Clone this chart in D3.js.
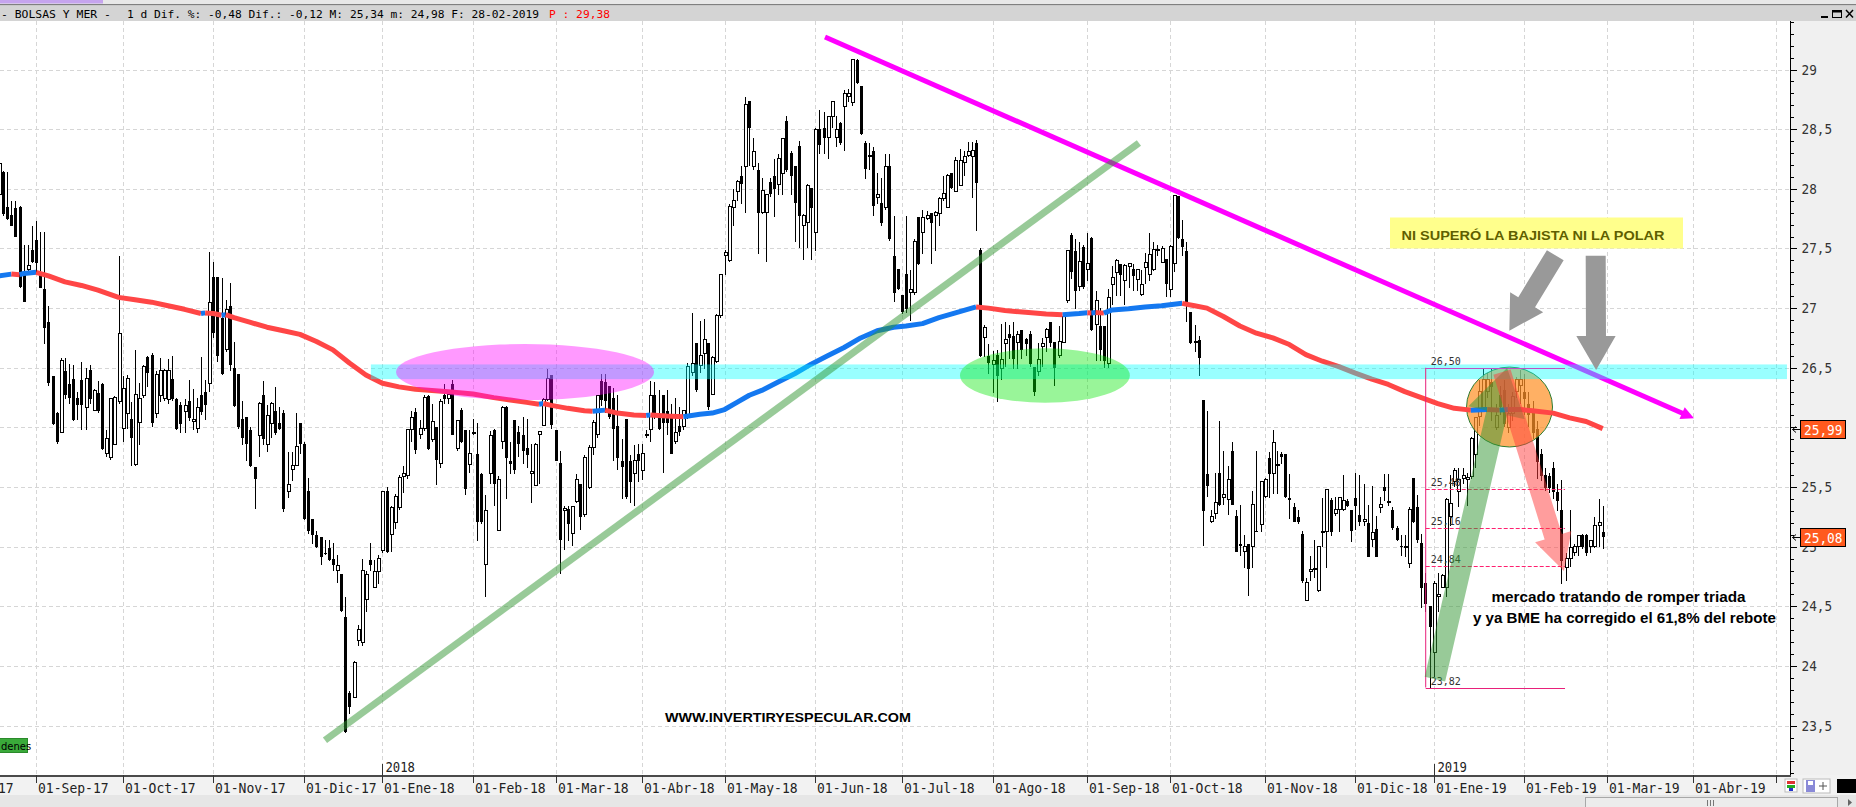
<!DOCTYPE html>
<html><head><meta charset="utf-8">
<script src="https://cdn.jsdelivr.net/npm/d3@7"></script>
<style>html,body{margin:0;padding:0;background:#fff;overflow:hidden}svg{display:block}</style>
</head><body>
<svg id="c" width="1856" height="807"></svg>
<script>
// ---------------- DATA ----------------
const opens=[27.95,28.14,27.85,27.78,27.84,27.85,27.30,27.32,27.49,27.57,
27.30,27.16,26.88,26.43,26.12,25.96,26.47,26.36,26.41,26.25,
26.40,26.17,26.48,26.14,26.29,26.36,25.78,25.75,25.86,26.22,
25.99,26.12,26.07,25.69,26.04,26.27,26.59,26.61,26.12,26.27,
26.24,26.23,26.41,26.24,26.19,26.13,26.22,26.05,25.99,26.27,
26.30,26.37,27.26,27.26,26.92,26.65,27.02,26.50,26.45,26.07,
26.09,25.98,25.67,25.93,26.27,25.86,26.03,26.14,26.04,26.12,
25.46,25.65,25.68,26.04,25.86,25.47,25.23,25.10,25.08,24.95,
24.99,24.90,24.80,24.77,24.41,23.77,23.74,24.21,24.20,24.56,
24.89,24.66,24.79,24.97,25.47,25.10,25.20,25.33,25.59,25.60,
25.98,26.13,25.94,25.99,26.26,25.90,26.00,25.70,26.27,26.24,
26.36,25.82,26.15,25.98,25.69,25.95,25.78,25.61,24.85,25.61,
25.98,25.14,25.88,26.17,25.72,26.06,25.96,25.94,25.83,25.61,
25.51,25.94,26.02,26.23,26.44,25.98,25.70,25.30,25.32,25.11,
25.38,25.53,25.27,25.50,25.83,25.94,26.39,26.38,26.35,26.25,
26.01,25.72,26.07,25.72,25.61,25.78,25.64,25.93,25.98,26.27,
26.09,26.27,26.14,26.09,25.88,26.01,26.01,26.09,26.46,26.71,
26.52,26.62,26.71,26.28,26.55,26.94,27.44,27.40,27.84,27.98,
28.11,28.19,28.74,28.19,28.16,27.80,27.80,28.06,28.11,28.04,
28.13,28.57,28.30,28.19,28.36,27.69,27.72,28.01,27.63,28.50,
28.51,28.43,28.61,28.43,28.55,28.69,28.77,28.72,29.08,28.86,
28.38,28.28,28.32,27.93,27.88,27.84,28.19,27.44,27.33,27.11,
27.29,27.13,27.13,27.76,27.63,27.75,27.80,27.78,27.79,27.92,
27.84,28.13,27.98,28.03,28.22,28.28,28.27,28.38,27.49,26.75,
26.60,26.53,26.61,26.49,26.70,26.78,26.77,26.71,26.82,26.74,
26.78,26.51,26.47,26.68,26.75,26.88,26.72,26.60,26.71,27.06,
27.61,27.48,27.18,27.51,27.32,27.59,26.86,26.85,26.85,26.54,
27.20,27.30,27.37,27.23,27.35,27.33,27.24,27.11,27.34,27.28,
27.32,27.48,27.38,27.41,27.16,27.37,27.94,27.58,27.48,26.97,
26.71,26.73,26.23,25.61,25.21,25.28,25.62,25.41,25.40,25.80,
25.26,25.02,24.96,25.02,25.00,25.13,25.19,25.42,25.74,25.61,
25.68,25.78,25.78,25.41,25.33,25.25,25.11,24.55,24.79,24.81,
24.63,25.12,25.13,25.39,25.28,25.31,25.31,25.38,25.31,25.41,
25.27,25.21,25.20,25.06,25.15,25.33,25.50,25.37,25.31,25.16,
25.01,24.99,24.86,25.58,25.33,25.03,24.70,24.50,24.11,24.58,
24.66,24.66,25.25,25.55,25.46,25.57,25.56,25.59,25.77,26.09,
26.17,26.30,26.38,26.00,26.27,26.31,26.00,26.12,26.30,26.35,
26.30,26.20,26.15,25.99,25.78,25.60,25.59,25.66,25.46,25.31,
24.83,24.90,24.95,25.00,25.10,25.10,25.00,25.00,25.18,25.12];
const highs=[28.23,28.15,28.14,27.90,27.90,27.86,27.53,27.53,27.69,27.73,
27.64,27.64,27.02,26.43,26.13,26.58,26.58,26.53,26.52,26.30,
26.55,26.50,26.52,26.32,26.39,26.37,25.98,26.25,26.26,27.44,
26.43,26.44,26.21,26.65,26.37,26.52,26.60,26.62,26.47,26.58,
26.49,26.57,26.60,26.25,26.21,26.24,26.40,26.32,26.25,26.59,
26.40,27.47,27.39,27.26,27.25,27.07,27.21,26.72,26.45,26.22,
26.09,26.00,25.67,26.21,26.39,26.19,26.21,26.34,26.17,26.15,
25.79,25.79,26.12,26.04,25.88,25.58,25.23,25.13,25.08,25.06,
25.06,25.03,24.93,24.77,24.58,23.79,24.04,24.34,24.90,24.80,
25.03,24.89,24.93,25.47,25.50,25.34,25.44,25.60,25.68,25.98,
26.14,26.16,26.06,26.27,26.27,26.20,26.00,26.24,26.36,26.30,
26.40,26.06,26.16,25.98,25.98,26.07,26.04,25.62,25.43,25.97,
25.99,25.59,26.18,26.18,25.88,26.06,26.01,26.09,26.07,25.86,
25.87,25.97,26.25,26.49,26.44,25.98,25.80,25.34,25.34,25.34,
25.61,25.53,25.77,25.85,26.06,26.27,26.45,26.45,26.35,26.33,
26.27,25.90,26.07,25.77,25.85,25.86,25.86,25.98,26.39,26.38,
26.31,26.27,26.31,26.20,26.25,26.17,26.15,26.54,26.96,26.71,
26.89,26.91,26.71,26.60,26.95,27.28,27.49,27.87,28.00,28.07,
28.19,28.77,28.74,28.43,28.22,28.09,27.95,28.09,28.25,28.29,
28.43,28.61,28.32,28.19,28.40,27.79,28.04,28.01,28.51,28.66,
28.64,28.61,28.74,28.61,28.56,28.83,28.84,29.09,29.09,28.86,
28.40,28.38,28.35,28.13,28.09,28.29,28.29,27.77,27.33,27.11,
27.77,27.32,27.58,27.76,27.82,27.81,27.80,27.81,27.93,28.11,
28.12,28.13,28.27,28.33,28.32,28.39,28.39,28.41,27.50,26.86,
26.70,26.64,26.65,26.87,26.88,26.86,26.88,26.81,26.82,26.75,
26.81,26.51,26.71,26.75,26.83,26.88,26.72,26.85,26.95,27.49,
27.63,27.58,27.55,27.53,27.63,27.60,27.14,27.00,26.85,27.16,
27.35,27.41,27.37,27.37,27.37,27.37,27.33,27.32,27.46,27.63,
27.55,27.53,27.52,27.41,27.53,27.94,27.94,27.74,27.55,26.97,
26.86,26.77,26.23,26.14,25.31,25.62,26.05,25.80,25.68,25.88,
25.31,25.35,25.10,25.02,25.47,25.80,25.55,25.58,25.79,25.98,
25.80,25.79,25.78,25.61,25.37,25.31,25.13,24.74,24.92,25.06,
25.01,25.41,25.48,25.41,25.42,25.42,25.60,25.40,25.31,25.62,
25.60,25.53,25.35,25.51,25.26,25.42,25.61,25.61,25.33,25.17,
25.10,25.10,25.33,25.58,25.43,25.11,24.78,24.50,24.71,24.78,
24.77,25.41,25.60,25.66,25.66,25.66,25.62,25.92,26.09,26.40,
26.50,26.46,26.50,26.20,26.35,26.40,26.20,26.30,26.42,26.48,
26.45,26.30,26.22,26.05,25.82,25.66,25.62,25.71,25.53,25.56,
24.95,25.31,25.02,25.10,25.11,25.11,25.06,25.25,25.40,25.34];
const lows=[27.90,27.77,27.74,27.69,27.60,27.17,27.05,27.30,27.38,27.28,
27.17,26.70,26.35,26.02,25.86,25.95,26.24,26.20,26.05,26.06,
25.98,25.98,26.20,26.14,26.12,25.81,25.75,25.73,25.85,26.20,
25.88,25.99,25.68,25.68,25.85,26.25,26.34,26.00,26.08,26.21,
26.22,26.20,26.22,25.98,25.95,25.95,26.05,25.98,25.95,26.10,
26.06,26.30,26.75,26.55,26.44,26.63,26.47,26.17,25.99,25.85,
25.72,25.67,25.32,25.75,25.85,25.79,25.91,25.94,25.98,25.29,
25.41,25.55,25.68,25.78,25.22,25.11,25.02,24.99,24.85,24.93,
24.88,24.80,24.70,24.45,23.44,23.60,23.73,24.17,24.17,24.45,
24.80,24.65,24.69,24.95,24.95,24.96,25.15,25.31,25.45,25.57,
25.88,25.78,25.90,25.97,25.81,25.88,25.52,25.66,26.20,26.20,
25.94,25.80,25.87,25.43,25.62,25.94,25.05,25.19,24.58,25.53,
25.34,25.13,25.82,25.40,25.61,25.61,25.75,25.69,25.66,25.37,
25.51,25.53,26.01,26.22,25.99,25.72,24.77,24.97,25.05,25.01,
25.37,25.14,25.25,25.48,25.77,25.91,26.18,26.12,26.07,25.72,
25.64,25.40,25.40,25.37,25.34,25.54,25.56,25.91,25.88,26.07,
25.98,25.62,25.94,25.78,25.86,25.93,25.98,26.07,26.43,26.30,
26.46,26.49,26.15,26.28,26.54,26.92,27.28,27.39,27.69,27.90,
27.87,27.80,28.19,28.16,27.45,27.79,27.39,27.93,27.76,27.95,
27.95,28.14,27.95,27.55,27.50,27.40,27.50,27.40,27.48,28.29,
28.29,28.25,28.51,28.35,28.37,28.32,28.73,28.69,28.88,28.45,
28.08,28.16,27.77,27.87,27.69,27.82,27.56,27.05,27.15,26.95,
26.96,26.89,27.11,27.36,27.45,27.74,27.37,27.48,27.69,27.90,
27.84,28.00,27.98,28.03,28.11,28.27,27.92,27.65,26.59,26.59,
26.45,26.29,26.21,26.40,26.51,26.57,26.49,26.49,26.57,26.60,
26.51,26.26,26.43,26.51,26.63,26.67,26.35,26.58,26.71,27.04,
27.24,26.99,27.14,27.16,27.23,26.81,26.56,26.56,26.50,26.50,
27.03,27.10,27.10,27.03,27.17,27.14,27.14,27.10,27.20,27.23,
27.31,27.44,27.38,27.09,27.09,27.30,27.58,27.44,26.88,26.70,
26.63,26.43,25.01,25.42,25.20,25.23,25.34,25.35,25.27,25.35,
24.96,24.92,24.82,24.59,24.82,25.12,25.12,25.41,25.41,25.44,
25.44,25.69,25.41,25.23,25.21,25.19,24.70,24.55,24.71,24.74,
24.62,25.00,24.82,25.09,25.26,25.12,25.30,25.33,25.04,25.14,
25.17,25.17,24.91,25.00,24.91,25.28,25.38,25.34,25.14,25.05,
24.92,24.91,24.82,25.20,25.03,24.49,24.45,23.82,23.91,24.45,
24.65,24.58,25.17,25.50,25.33,25.53,25.34,25.57,25.66,26.01,
26.15,26.25,26.05,25.98,26.10,26.00,25.95,26.05,26.25,26.20,
26.10,26.00,25.90,25.57,25.55,25.47,25.45,25.40,25.30,24.69,
24.71,24.83,24.92,24.92,24.98,24.92,24.95,24.99,25.00,24.98];
const closes=[28.21,27.79,27.75,27.69,27.60,27.18,27.05,27.36,27.39,27.38,
27.17,26.83,26.37,26.03,25.88,26.56,26.27,26.25,26.06,26.19,
26.19,26.41,26.24,26.31,26.14,25.82,25.91,26.24,26.25,26.79,
26.33,26.41,25.91,26.28,26.24,26.51,26.46,26.04,26.44,26.48,
26.48,26.48,26.24,25.99,26.03,26.18,26.08,26.07,26.17,26.13,
26.19,27.05,26.79,26.60,26.45,26.99,26.52,26.18,26.00,25.91,
25.86,25.68,25.57,26.20,25.90,26.10,26.20,25.95,25.99,25.32,
25.52,25.68,25.84,25.86,25.23,25.13,25.10,25.00,24.91,24.94,
24.89,24.85,24.84,24.46,23.45,23.66,24.03,24.31,24.80,24.77,
24.85,24.79,24.90,25.46,24.96,25.33,25.42,25.58,25.61,25.98,
26.08,25.81,25.99,26.25,25.82,26.05,25.73,26.22,26.24,26.28,
25.94,26.06,25.88,25.48,25.78,25.96,25.21,25.21,25.30,25.93,
25.53,25.56,26.17,25.74,25.69,25.64,25.86,25.80,25.77,25.63,
25.86,25.97,26.23,26.41,26.02,25.72,25.06,25.32,25.19,25.34,
25.56,25.25,25.75,25.83,26.04,26.27,26.23,26.22,26.09,25.99,
25.74,25.67,25.42,25.54,25.72,25.72,25.78,25.94,26.27,26.09,
25.99,26.04,26.04,25.78,25.96,25.96,26.14,26.51,26.54,26.31,
26.60,26.74,26.17,26.59,26.94,27.28,27.47,27.85,27.90,28.06,
28.04,28.71,28.51,28.31,27.80,27.99,27.95,27.96,28.00,28.25,
28.42,28.16,28.11,27.88,27.77,27.78,28.03,27.84,28.50,28.37,
28.43,28.61,28.73,28.50,28.38,28.80,28.80,29.08,28.89,28.46,
28.17,28.28,27.86,27.95,27.71,28.19,27.58,27.13,27.16,26.97,
26.99,27.16,27.56,27.37,27.76,27.78,27.71,27.80,27.92,27.96,
28.11,28.01,28.24,28.24,28.27,28.31,28.32,28.05,26.60,26.84,
26.54,26.56,26.43,26.57,26.74,26.75,26.57,26.78,26.65,26.70,
26.53,26.30,26.57,26.70,26.82,26.71,26.50,26.72,26.93,27.48,
27.30,27.14,27.39,27.18,27.37,26.82,27.06,26.65,26.56,27.09,
27.26,27.40,27.28,27.36,27.37,27.27,27.32,27.20,27.38,27.45,
27.49,27.49,27.50,27.20,27.52,27.94,27.59,27.51,27.02,26.71,
26.72,26.58,25.30,25.51,25.25,25.37,25.35,25.44,25.56,25.35,
24.96,25.01,25.00,24.81,25.35,25.12,25.55,25.56,25.61,25.87,
25.69,25.75,25.42,25.39,25.21,25.21,24.71,24.70,24.81,24.82,
25.00,25.13,25.48,25.12,25.31,25.41,25.39,25.34,25.13,25.34,
25.21,25.23,24.91,25.12,24.91,25.35,25.47,25.38,25.16,25.06,
25.00,25.00,25.31,25.21,25.06,24.65,24.52,24.33,24.69,24.60,
24.76,25.40,25.36,25.64,25.56,25.60,25.58,25.91,26.08,26.30,
26.40,26.40,26.34,26.10,26.17,26.03,26.12,26.26,26.40,26.40,
26.24,26.10,25.95,25.71,25.59,25.49,25.49,25.46,25.38,24.88,
24.90,24.99,25.00,25.09,25.00,24.95,25.05,25.18,25.20,25.08];
// moving average (sampled at bar indices)
const maIndex=[0,3,5,6,9,12,16,20,24,29,33,37,41,45,49,50,52,54,55,57,61,65,69,73,77,81,85,89,93,97,101,105,109,115,120,124,128,131,132,134,138,142,144,147,150,154,157,158,162,166,170,173,176,179,182,185,189,193,197,201,205,209,213,217,220,224,228,232,237,240,244,249,254,258,262,264,265,266,268,270,274,278,282,287,290,293,297,301,305,309,313,317,321,325,329,333,337,341,345,349,353,357,361,364,366,369,372,377,381,385,389];
const maValues=[27.27,27.285,27.28,27.29,27.30,27.27,27.22,27.19,27.15,27.09,27.07,27.05,27.02,26.99,26.955,26.96,26.955,26.94,26.945,26.92,26.88,26.84,26.81,26.78,26.72,26.65,26.54,26.44,26.37,26.34,26.32,26.31,26.30,26.28,26.25,26.23,26.21,26.195,26.20,26.185,26.16,26.14,26.135,26.145,26.12,26.105,26.10,26.105,26.095,26.09,26.11,26.12,26.15,26.21,26.27,26.31,26.38,26.45,26.53,26.60,26.67,26.75,26.81,26.84,26.85,26.87,26.92,26.96,27.01,27.00,26.98,26.965,26.95,26.945,26.955,26.962,26.960,26.963,26.958,26.985,26.995,27.01,27.02,27.04,27.02,27.00,26.93,26.85,26.79,26.75,26.695,26.61,26.555,26.51,26.455,26.405,26.36,26.30,26.25,26.20,26.16,26.145,26.15,26.145,26.15,26.15,26.14,26.12,26.08,26.05,25.99];
const fibLevels=[26.50,25.48,25.16,24.84,23.82];
const fibLabels=["26,50","25,48","25,16","24,84","23,82"];
const yTickValues=[23.5,24,24.5,25,25.5,26,26.5,27,27.5,28,28.5,29];
const yTickLabels=["23,5","24","24,5","25","25,5","26","26,5","27","27,5","28","28,5","29"];
const monthStarts=["2017-08-01","2017-09-01","2017-10-01","2017-11-01","2017-12-01","2018-01-01","2018-02-01","2018-03-01","2018-04-01","2018-05-01","2018-06-01","2018-07-01","2018-08-01","2018-09-01","2018-10-01","2018-11-01","2018-12-01","2019-01-01","2019-02-01","2019-03-01","2019-04-01","2019-05-01"];
const monthLabels=["01-Ago-17","01-Sep-17","01-Oct-17","01-Nov-17","01-Dic-17","01-Ene-18","01-Feb-18","01-Mar-18","01-Abr-18","01-May-18","01-Jun-18","01-Jul-18","01-Ago-18","01-Sep-18","01-Oct-18","01-Nov-18","01-Dic-18","01-Ene-19","01-Feb-19","01-Mar-19","01-Abr-19",""];
const holidays=["2017-12-25","2017-12-26","2018-01-01","2018-03-30","2018-04-02","2018-05-01","2018-12-25","2018-12-26","2019-01-01","2019-04-19","2019-04-22","2019-05-01"];
const dataStart="2017-08-21";
const headerTitle="- BOLSAS Y MER -";
const headerMain="1 d Dif. %: -0,48 Dif.: -0,12 M: 25,34 m: 24,98 F: 28-02-2019";
const headerLast="P : 29,38";

// ---------------- CALENDAR ----------------
const cal=[];
for(let d=new Date(Date.UTC(2017,7,1)); d<=new Date(Date.UTC(2019,4,31)); d=new Date(d.getTime()+86400000)){
  const wd=d.getUTCDay(); const s=d.toISOString().slice(0,10);
  if(wd>0&&wd<6&&holidays.indexOf(s)<0) cal.push(s);
}
const off=cal.indexOf(dataStart);
const firstIdx=s=>cal.findIndex(c=>c>=s);

// ---------------- SCALES ----------------
const PL=0,PR=1790,PT=21,PB=775;
const x=d3.scaleLinear().domain([off,off+closes.length-1]).range([-1,1602.7]);
const y=d3.scaleLinear().domain([23.5,29]).range([725.7,69.5]);
const X=i=>x(i+off);
const pxPerDay=X(1)-X(0), pxPerUnit=y(0)-y(1);

const svg=d3.select('#c');
const defs=svg.append('defs');
defs.append('clipPath').attr('id','plot').append('rect').attr('x',PL).attr('y',PT).attr('width',PR-PL).attr('height',PB-PT);
const mono='"DejaVu Sans Mono", monospace';
const sans='"Liberation Sans", Arial, sans-serif';

// backgrounds
svg.append('rect').attr('width',1856).attr('height',807).attr('fill','#ffffff');
svg.append('rect').attr('x',PR).attr('y',PT).attr('width',1856-PR).attr('height',PB-PT).attr('fill','#f0f0f0');
svg.append('rect').attr('x',0).attr('y',PB).attr('width',1856).attr('height',20).attr('fill','#f2f2f2');
svg.append('rect').attr('x',0).attr('y',795).attr('width',1856).attr('height',12).attr('fill','#e6e6e6');

const plot=svg.append('g').attr('clip-path','url(#plot)');

// grid
const grid=plot.append('g').attr('stroke','#d6d6d6').attr('stroke-width',1).attr('stroke-dasharray','4,3');
yTickValues.forEach(v=>{const yy=Math.round(y(v))+0.5;grid.append('line').attr('x1',PL).attr('x2',PR).attr('y1',yy).attr('y2',yy);});
const monthIdx=monthStarts.map(firstIdx);
monthIdx.forEach(ci=>{const xx=Math.round(x(ci))+0.5;grid.append('line').attr('x1',xx).attr('x2',xx).attr('y1',PT).attr('y2',PB);});

// magenta downtrend line (below band)
function lineArrow(g,i1,v1,i2,v2,color,w,hl,hw){
  const x1=X(i1),y1=y(v1),x2=X(i2),y2=y(v2);
  const L=Math.hypot(x2-x1,y2-y1),ux=(x2-x1)/L,uy=(y2-y1)/L;
  const bx=x2-ux*hl,by=y2-uy*hl;
  g.append('line').attr('x1',x1).attr('y1',y1).attr('x2',bx+ux).attr('y2',by+uy).attr('stroke',color).attr('stroke-width',w);
  g.append('polygon').attr('points',[[x2,y2],[bx-uy*hw,by+ux*hw],[bx+uy*hw,by-ux*hw]].map(p=>p.join(',')).join(' ')).attr('fill',color);
}
lineArrow(plot,200.36,29.272,411.15,26.076,'#ff00ff',5,13,6.5);

// candles
const cg=plot.append('g').attr('shape-rendering','crispEdges');
closes.forEach((c,i)=>{
  const o=opens[i],h=highs[i],l=lows[i];
  const px=Math.round(X(i));
  cg.append('line').attr('x1',px+0.5).attr('x2',px+0.5).attr('y1',y(h)).attr('y2',y(l)).attr('stroke','#000').attr('stroke-width',1);
  const top=y(Math.max(o,c)),bot=y(Math.min(o,c));
  const hh=Math.max(1,bot-top);
  if(c>=o){
    cg.append('rect').attr('x',px-1).attr('y',top).attr('width',3).attr('height',hh).attr('fill','#fff').attr('stroke','#000').attr('stroke-width',1);
  }else{
    cg.append('rect').attr('x',px-1).attr('y',top).attr('width',3).attr('height',hh).attr('fill','#000');
  }
});

// orange circle (over candles)
plot.append('ellipse').attr('cx',X(366.4)).attr('cy',y(26.171)).attr('rx',10.43*pxPerDay).attr('ry',0.335*pxPerUnit)
  .attr('fill','rgba(255,145,40,0.72)').attr('stroke','#2e7d32').attr('stroke-width',1);

// moving average coloured by slope
const mg=plot.append('g').attr('fill','none').attr('stroke-width',5).attr('stroke-linejoin','round');
const maLine=d3.line().x(d=>X(d[0])).y(d=>y(d[1]));
let run=[[maIndex[0],maValues[0]]],runUp=maValues[1]>maValues[0];
for(let k=1;k<maIndex.length;k++){
  const up=maValues[k]>maValues[k-1];
  if(up!==runUp){mg.append('path').attr('d',maLine(run)).attr('stroke',runUp?'#1478f0':'#ff4646');run=[run[run.length-1]];runUp=up;}
  run.push([maIndex[k],maValues[k]]);
}
mg.append('path').attr('d',maLine(run)).attr('stroke',runUp?'#1478f0':'#ff4646');

// cyan band at 26,5
plot.append('rect').attr('x',X(90.2)).attr('y',y(26.528)).attr('width',X(433.7)-X(90.2)).attr('height',y(26.405)-y(26.528)).attr('fill','rgba(0,255,255,0.4)');

// ellipses
plot.append('ellipse').attr('cx',X(127.6)).attr('cy',y(26.464)).attr('rx',31.3*pxPerDay).attr('ry',0.235*pxPerUnit).attr('fill','rgba(255,0,255,0.4)');
plot.append('ellipse').attr('cx',X(253.7)).attr('cy',y(26.435)).attr('rx',20.6*pxPerDay).attr('ry',0.228*pxPerUnit).attr('fill','rgba(0,230,0,0.4)');

// green uptrend line
plot.append('line').attr('x1',X(79.07)).attr('y1',y(23.378)).attr('x2',X(276.5)).attr('y2',y(28.384))
  .attr('stroke','rgba(50,150,50,0.5)').attr('stroke-width',7);

// fibonacci box
const fg=plot.append('g');
const fx1=X(346.07),fx2=X(379.86);
fg.append('line').attr('x1',fx1).attr('x2',fx1).attr('y1',y(fibLevels[0])).attr('y2',y(fibLevels[4])).attr('stroke','#e8207a').attr('stroke-width',1);
[0,4].forEach(k=>fg.append('line').attr('x1',fx1).attr('x2',fx2).attr('y1',Math.round(y(fibLevels[k]))+0.5).attr('y2',Math.round(y(fibLevels[k]))+0.5).attr('stroke',k===0?'#c050c0':'#e8207a').attr('stroke-width',1));
[1,2,3].forEach(k=>fg.append('line').attr('x1',fx1).attr('x2',fx2).attr('y1',Math.round(y(fibLevels[k]))+0.5).attr('y2',Math.round(y(fibLevels[k]))+0.5).attr('stroke','#ff2070').attr('stroke-width',1).attr('stroke-dasharray','4,2'));
fibLevels.forEach((v,k)=>fg.append('text').attr('x',fx1+5).attr('y',y(v)-3).attr('font-family',mono).attr('font-size',10).attr('fill','#333').text(fibLabels[k]));

// block arrows
function blockArrow(i1,v1,i2,v2,sw,hw,hl){
  const ax=X(i1),ay=y(v1),tx=X(i2),ty=y(v2);
  const dx=tx-ax,dy=ty-ay,L=Math.hypot(dx,dy),ux=dx/L,uy=dy/L,nx=-uy,ny=ux;
  const bx=tx-ux*hl,by=ty-uy*hl;
  return [[ax+nx*sw/2,ay+ny*sw/2],[bx+nx*sw/2,by+ny*sw/2],[bx+nx*hw/2,by+ny*hw/2],[tx,ty],[bx-nx*hw/2,by-ny*hw/2],[bx-nx*sw/2,by-ny*sw/2],[ax-nx*sw/2,ay-ny*sw/2]].map(p=>p.join(',')).join(' ');
}
plot.append('polygon').attr('points',blockArrow(348.3,23.891,365.8,26.498,21,58,46)).attr('fill','rgba(50,150,50,0.5)');
plot.append('polygon').attr('points',blockArrow(364.57,26.464,379.6,24.796,18,38,36)).attr('fill','rgba(255,60,60,0.5)');
plot.append('polygon').attr('points',blockArrow(377.5,27.443,366.35,26.811,19.6,38.7,33.3)).attr('fill','#999');
plot.append('polygon').attr('points',blockArrow(387.3,27.439,387.4,26.481,20,39.3,34)).attr('fill','#999');

// yellow label
const yb=plot.append('g');
yb.append('rect').attr('x',1390).attr('y',217.5).attr('width',293).attr('height',31).attr('fill','#ffff8c');
yb.append('text').attr('x',1401.5).attr('y',239.5).attr('font-family',sans).attr('font-weight','bold').attr('font-size',13.5)
  .attr('fill','#5f5f00').attr('textLength',263).attr('lengthAdjust','spacingAndGlyphs').text('NI SUPERÓ LA BAJISTA NI LA POLAR');

// comments
plot.append('text').attr('x',1491.5).attr('y',601.5).attr('font-family',sans).attr('font-weight','bold').attr('font-size',14.5).attr('fill','#000')
  .attr('textLength',254).attr('lengthAdjust','spacingAndGlyphs').text('mercado tratando de romper triada');
plot.append('text').attr('x',1473).attr('y',622.5).attr('font-family',sans).attr('font-weight','bold').attr('font-size',14.5).attr('fill','#000')
  .attr('textLength',303).attr('lengthAdjust','spacingAndGlyphs').text('y ya BME ha corregido el 61,8% del rebote');
plot.append('text').attr('x',665).attr('y',721.5).attr('font-family',sans).attr('font-weight','bold').attr('font-size',13).attr('fill','#000')
  .attr('textLength',246).attr('lengthAdjust','spacingAndGlyphs').text('WWW.INVERTIRYESPECULAR.COM');

// "Órdenes" tag (cut by the left edge as in the source window)
plot.append('rect').attr('x',-1).attr('y',738.5).attr('width',28.5).attr('height',14).attr('fill','#3aaa3a').attr('stroke','#2a8a2a');
plot.append('text').attr('x',1).attr('y',749.5).attr('font-family','"DejaVu Sans", sans-serif').attr('font-size',10).attr('fill','#000').text('denes');

// ---------------- AXES ----------------
const lastVals=[maValues[maValues.length-1],closes[closes.length-1]];
// y axis
const ya=svg.append('g');
ya.append('line').attr('x1',PR+0.5).attr('x2',PR+0.5).attr('y1',PT).attr('y2',PB).attr('stroke','#000');
d3.range(231,295).map(k=>k/10).forEach(v=>{
  const yy=Math.round(y(v))+0.5; if(yy<PT||yy>PB) return;
  const major=Math.abs(v*2-Math.round(v*2))<1e-6;
  ya.append('line').attr('x1',PR).attr('x2',PR+(major?7:4)).attr('y1',yy).attr('y2',yy).attr('stroke','#000');
});
yTickValues.forEach((v,k)=>{
  // a label fully hidden behind a last-value box is not drawn (as in the source)
  if(lastVals.some(lv=>Math.abs(y(lv)-y(v))<4)) return;
  ya.append('text').attr('x',1801.5).attr('y',y(v)+5).attr('font-family',mono).attr('font-size',14).attr('fill','#333')
    .attr('textLength',7.65*yTickLabels[k].length).attr('lengthAdjust','spacingAndGlyphs').text(yTickLabels[k]);
});
// last-value boxes
lastVals.forEach(v=>{
  const yy=Math.round(y(v))+0.5;
  ya.append('path').attr('d',`M1800,${yy}H1792.5M1796,${yy-3}L1792.5,${yy}L1796,${yy+3}`).attr('stroke','#000').attr('fill','none');
  ya.append('rect').attr('x',1800.5).attr('y',yy-9).attr('width',45).attr('height',18).attr('fill','#ff5a1e').attr('stroke','#000');
  ya.append('text').attr('x',1804).attr('y',yy+5).attr('font-family',mono).attr('font-size',14).attr('fill','#fff')
    .attr('textLength',38.5).attr('lengthAdjust','spacingAndGlyphs').text(v.toFixed(2).replace('.',','));
});

// x axis
const xa=svg.append('g');
xa.append('line').attr('x1',0).attr('x2',PR+1).attr('y1',PB+1).attr('y2',PB+1).attr('stroke','#4a4a4a').attr('stroke-width',2);
monthIdx.forEach((ci,k)=>{
  const xx=Math.round(x(ci))+0.5;
  if(xx>PR) return;
  xa.append('line').attr('x1',xx).attr('x2',xx).attr('y1',PB).attr('y2',PB+8).attr('stroke','#333');
  if(monthLabels[k]) xa.append('text').attr('x',xx+1.5).attr('y',792.5).attr('font-family',mono).attr('font-size',14.5).attr('fill','#222')
    .attr('textLength',7.85*monthLabels[k].length).attr('lengthAdjust','spacingAndGlyphs').text(monthLabels[k]);
  if(monthLabels[k].indexOf('Ene')>=0){
    xa.append('line').attr('x1',xx).attr('x2',xx).attr('y1',PB-11).attr('y2',PB).attr('stroke','#333');
    xa.append('text').attr('x',xx+3).attr('y',PB-3.5).attr('font-family',mono).attr('font-size',14).attr('fill','#222')
      .attr('textLength',29.5).attr('lengthAdjust','spacingAndGlyphs').text('20'+monthLabels[k].slice(-2));
  }
});

// bottom-right widgets
const bw=svg.append('g');
bw.append('rect').attr('x',1785).attr('y',779).attr('width',12).attr('height',13).attr('fill','#fff').attr('stroke','#bbb');
bw.append('rect').attr('x',1787).attr('y',781).attr('width',8).attr('height',3).attr('fill','#d33');
bw.append('rect').attr('x',1787).attr('y',785).attr('width',8).attr('height',3).attr('fill','#2a2');
bw.append('rect').attr('x',1789).attr('y',788).attr('width',4).attr('height',3).attr('fill','#23c');
bw.append('rect').attr('x',1803).attr('y',779).attr('width',27).attr('height',14).attr('fill','#fff').attr('stroke','#bbb');
bw.append('rect').attr('x',1806).attr('y',780).attr('width',9).attr('height',12).attr('fill','#8a8ad8');
bw.append('rect').attr('x',1808).attr('y',781).attr('width',5).attr('height',4).attr('fill','#fff');
bw.append('path').attr('d','M1819,786H1827M1823,782V790').attr('stroke','#555');
bw.append('rect').attr('x',1837).attr('y',779).attr('width',19).attr('height',14).attr('fill','#000');
bw.append('rect').attr('x',1585.5).attr('y',797.5).attr('width',252).attr('height',10).attr('fill','#ececec').attr('stroke','#a8a8a8');
bw.append('path').attr('d','M1707.5,800V806M1710.5,800V806M1713.5,800V806').attr('stroke','#777');
bw.append('path').attr('d','M1848,799L1852,802.5L1848,806Z').attr('fill','#666');

// ---------------- HEADER ----------------
const hd=svg.append('g');
hd.append('rect').attr('x',0).attr('y',0).attr('width',1856).attr('height',4).attr('fill','#e8e8e8');
hd.append('rect').attr('x',0).attr('y',0).attr('width',103).attr('height',3.5).attr('fill','#c6a4ee');
hd.append('rect').attr('x',0).attr('y',4).attr('width',1856).attr('height',1.5).attr('fill','#808080');
hd.append('rect').attr('x',0).attr('y',5.5).attr('width',1856).attr('height',15.5).attr('fill','#d4d4d4');
const ht=hd.append('text').attr('y',18).attr('font-family',mono).attr('font-size',11.2).attr('fill','#000');
ht.append('tspan').attr('x',1).attr('textLength',110).attr('lengthAdjust','spacingAndGlyphs').text(headerTitle);
ht.append('tspan').attr('x',127).attr('textLength',412).attr('lengthAdjust','spacingAndGlyphs').text(headerMain);
ht.append('tspan').attr('x',549).attr('fill','#ff0000').attr('textLength',61).attr('lengthAdjust','spacingAndGlyphs').text(headerLast);
// window buttons
hd.append('path').attr('d','M1821,17H1828').attr('stroke','#000').attr('stroke-width',2);
hd.append('rect').attr('x',1832.5).attr('y',10.5).attr('width',9).attr('height',7).attr('fill','none').attr('stroke','#000');
hd.append('path').attr('d','M1832.5,11.5H1841.5').attr('stroke','#000').attr('stroke-width',2);
hd.append('path').attr('d','M1846,10L1853,17.5M1853,10L1846,17.5').attr('stroke','#000').attr('stroke-width',1.5);
</script>
</body></html>
